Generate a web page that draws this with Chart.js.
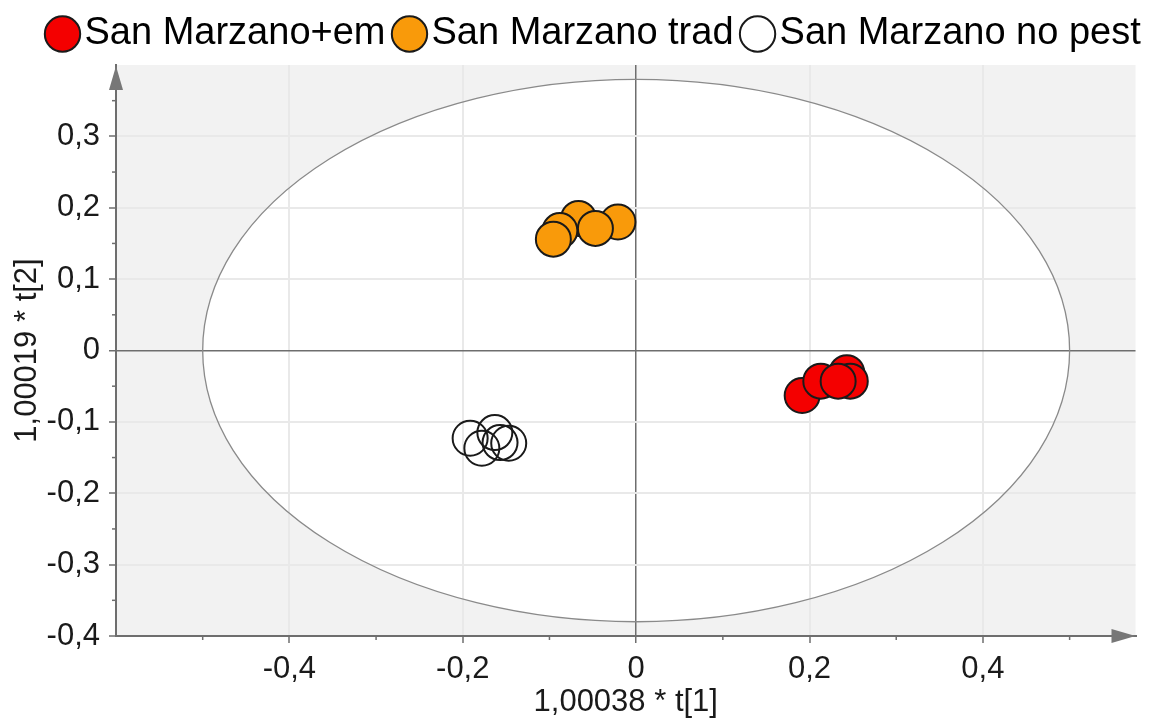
<!DOCTYPE html>
<html>
<head>
<meta charset="utf-8">
<script src="https://cdn.jsdelivr.net/npm/chart.js@4.4.0/dist/chart.umd.min.js"></script>
<style>
  html, body { margin: 0; padding: 0; background: #fff; }
  #wrap { width: 1155px; height: 724px; }
</style>
</head>
<body>
<div id="wrap"><canvas id="scoreChart" width="1155" height="724"></canvas></div>
<script>
"use strict";
// scores
var groupNames = ["San Marzano+em", "San Marzano trad", "San Marzano no pest"];
var emT1 = [0.1915, 0.213, 0.243, 0.247, 0.233];
var emT2 = [-0.063, -0.043, -0.031, -0.043, -0.043];
var tradT1 = [-0.0665, -0.021, -0.088, -0.0955, -0.047];
var tradT2 = [0.185, 0.18, 0.168, 0.156, 0.171];
var nopestT1 = [-0.1915, -0.178, -0.163, -0.157, -0.147];
var nopestT2 = [-0.123, -0.137, -0.115, -0.129, -0.13];
var xTicks = [-0.6, -0.4, -0.2, 0, 0.2, 0.4];
var yTicks = [-0.4, -0.3, -0.2, -0.1, 0, 0.1, 0.2, 0.3];
// Hotelling T2 ellipse half-widths
var ellipseT1 = 0.5;
var ellipseT2 = 0.38;

var FONT = "'Liberation Sans', Arial, sans-serif";
var AXIS = "#6e6e6e";

function pts(xs, ys) {
  return xs.map(function (v, i) { return { x: v, y: ys[i] }; });
}
function isMajor(v, list) {
  return list.some(function (t) { return Math.abs(t - v) < 1e-6; });
}
function fmt(v) {
  return String(Math.round(v * 10) / 10).replace(".", ",");
}

var decor = {
  id: "decor",
  beforeInit: function (chart) {
    var fit = chart.legend.fit;
    chart.legend.fit = function () {
      fit.call(chart.legend);
      this.height = 71;
    };
  },
  afterLayout: function (chart) {
    // one row, starting near the left edge like the original
    var lg = chart.legend;
    lg.right = lg.left + 1200;
    lg.lineWidths[0] = lg.left + lg.options.labels.padding + lg.right - 2 * 59.5;
  },
  beforeDraw: function (chart) {
    var a = chart.chartArea, c = chart.ctx, sx = chart.scales.x, sy = chart.scales.y;
    c.save();
    c.fillStyle = "#f2f2f2";
    c.fillRect(a.left, a.top, a.right - a.left, a.bottom - a.top);
    var cx = sx.getPixelForValue(0), cy = sy.getPixelForValue(0);
    c.beginPath();
    c.ellipse(cx, cy, sx.getPixelForValue(ellipseT1) - cx, cy - sy.getPixelForValue(ellipseT2), 0, 0, Math.PI * 2);
    c.fillStyle = "#ffffff";
    c.fill();
    c.restore();
  },
  beforeDatasetsDraw: function (chart) {
    var a = chart.chartArea, c = chart.ctx, sx = chart.scales.x, sy = chart.scales.y;
    c.save();
    var cx = sx.getPixelForValue(0), cy = sy.getPixelForValue(0);
    c.beginPath();
    c.ellipse(cx, cy, sx.getPixelForValue(ellipseT1) - cx, cy - sy.getPixelForValue(ellipseT2), 0, 0, Math.PI * 2);
    c.strokeStyle = "#8a8a8a";
    c.lineWidth = 1.3;
    c.stroke();

    // minor ticks
    c.strokeStyle = AXIS;
    c.lineWidth = 1.5;
    sx.ticks.forEach(function (t) {
      if (isMajor(t.value, xTicks)) return;
      var p = sx.getPixelForValue(t.value);
      c.beginPath(); c.moveTo(p, a.bottom); c.lineTo(p, a.bottom + 4); c.stroke();
    });
    sy.ticks.forEach(function (t) {
      if (isMajor(t.value, yTicks) || t.value > 0.38) return;
      var p = sy.getPixelForValue(t.value);
      c.beginPath(); c.moveTo(a.left - 4, p); c.lineTo(a.left, p); c.stroke();
    });

    // arrow heads
    c.fillStyle = "#777";
    c.beginPath();
    c.moveTo(a.left, a.top + 1);
    c.lineTo(a.left - 7, a.top + 25);
    c.lineTo(a.left + 7, a.top + 25);
    c.closePath();
    c.fill();
    c.beginPath();
    c.moveTo(a.right, a.bottom);
    c.lineTo(a.right - 24, a.bottom - 7);
    c.lineTo(a.right - 24, a.bottom + 7);
    c.closePath();
    c.fill();
    c.restore();
  }
};

var ctx = document.getElementById("scoreChart");
var chart = new Chart(ctx, {
  type: "scatter",
  data: {
    datasets: [
      {
        label: groupNames[0],
        data: pts(emT1, emT2),
        backgroundColor: "#f40000",
        borderColor: "#1a1a1a",
      },
      {
        label: groupNames[1],
        data: pts(tradT1, tradT2),
        backgroundColor: "#f99a0a",
        borderColor: "#1a1a1a",
      },
      {
        label: groupNames[2],
        data: pts(nopestT1, nopestT2),
        backgroundColor: "rgba(255,255,255,0)",
        borderColor: "#1a1a1a",
      },
    ],
  },
  plugins: [decor],
  options: {
    responsive: false,
    animation: false,
    layout: { padding: { top: -6, right: 12, bottom: 0, left: 0 } },
    elements: { point: { radius: 17.5, borderWidth: 2, hoverRadius: 17.5 } },
    plugins: {
      tooltip: { enabled: false },
      legend: {
        position: "top",
        labels: {
          usePointStyle: true,
          pointStyle: "circle",
          boxWidth: 6,
          boxHeight: 25,
          padding: 21,
          color: "#000",
          font: { family: FONT, size: 38 },
        },
      },
    },
    scales: {
      x: {
        type: "linear",
        min: -0.6,
        max: 0.576,
        afterFit: function (s) { s.height = 88; },
        border: { color: AXIS, width: 2 },
        grid: {
          color: function (c) {
            var v = c.tick.value;
            if (Math.abs(v) < 1e-6) return AXIS;
            return isMajor(v, xTicks) ? "#e9e9e9" : "rgba(0,0,0,0)";
          },
          lineWidth: function (c) { return Math.abs(c.tick.value) < 1e-6 ? 1.5 : 2; },
          tickColor: function (c) { return isMajor(c.tick.value, xTicks) ? AXIS : "rgba(0,0,0,0)"; },
          tickLength: 7,
          tickWidth: 1.5,
        },
        ticks: {
          stepSize: 0.1,
          includeBounds: false,
          autoSkip: false,
          maxRotation: 0,
          padding: 8,
          color: "#1a1a1a",
          font: { family: FONT, size: 31 },
          callback: function (v) { return isMajor(v, xTicks) ? fmt(v) : ""; },
        },
        title: {
          display: true,
          text: "1,00038 * t[1]",
          color: "#1a1a1a",
          font: { family: FONT, size: 31 },
          padding: { top: 0, bottom: 3 },
        },
      },
      y: {
        type: "linear",
        min: -0.4,
        max: 0.4,
        afterFit: function (s) { s.width = 116; },
        border: { color: AXIS, width: 2 },
        grid: {
          color: function (c) {
            var v = c.tick.value;
            if (Math.abs(v) < 1e-6) return AXIS;
            return isMajor(v, yTicks) ? "#e9e9e9" : "rgba(0,0,0,0)";
          },
          lineWidth: function (c) { return Math.abs(c.tick.value) < 1e-6 ? 1.5 : 2; },
          tickColor: function (c) { return isMajor(c.tick.value, yTicks) ? AXIS : "rgba(0,0,0,0)"; },
          tickLength: 7,
          tickWidth: 1.5,
        },
        ticks: {
          stepSize: 0.05,
          includeBounds: false,
          autoSkip: false,
          padding: 9,
          color: "#1a1a1a",
          font: { family: FONT, size: 31 },
          callback: function (v) { return isMajor(v, yTicks) ? fmt(v) : ""; },
        },
        title: {
          display: true,
          text: "1,00019 * t[2]",
          color: "#1a1a1a",
          font: { family: FONT, size: 31 },
          padding: { top: 9, bottom: 0 },
        },
      },
    },
  },
});
</script>
</body>
</html>
